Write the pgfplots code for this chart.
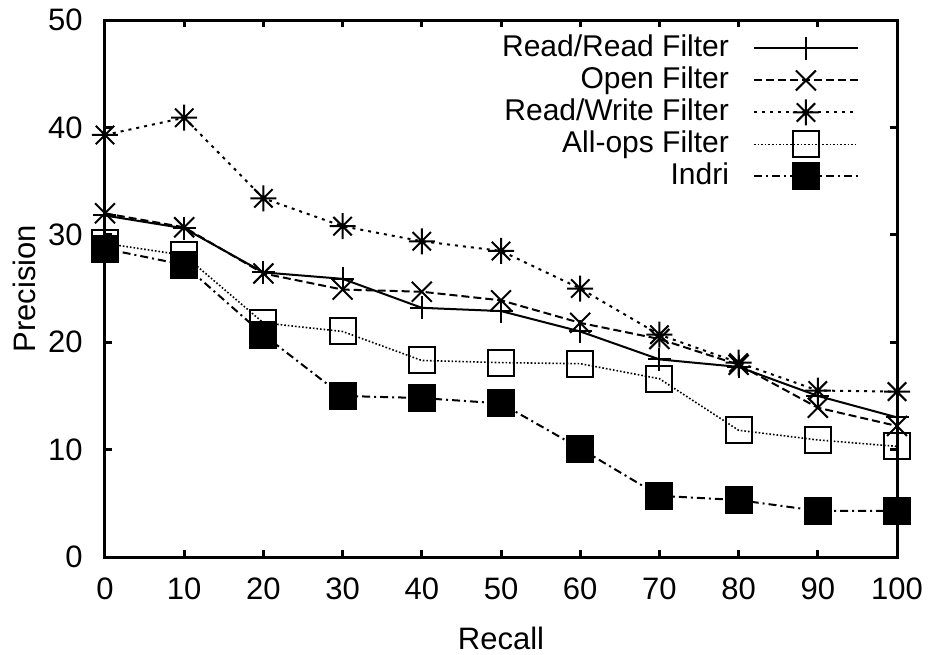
\documentclass[border=0pt]{standalone}
\usepackage{pgfplots}
\pgfplotsset{compat=1.18}
\usepackage{fontspec}
\setmainfont{Liberation Sans}
\pgfdeclareplotmark{gpstar}{%
  \pgfpathmoveto{\pgfqpoint{-\pgfplotmarksize}{0pt}}%
  \pgfpathlineto{\pgfqpoint{\pgfplotmarksize}{0pt}}%
  \pgfpathmoveto{\pgfqpoint{0pt}{-\pgfplotmarksize}}%
  \pgfpathlineto{\pgfqpoint{0pt}{\pgfplotmarksize}}%
  \pgfpathmoveto{\pgfqpoint{-.7071\pgfplotmarksize}{-.7071\pgfplotmarksize}}%
  \pgfpathlineto{\pgfqpoint{.7071\pgfplotmarksize}{.7071\pgfplotmarksize}}%
  \pgfpathmoveto{\pgfqpoint{-.7071\pgfplotmarksize}{.7071\pgfplotmarksize}}%
  \pgfpathlineto{\pgfqpoint{.7071\pgfplotmarksize}{-.7071\pgfplotmarksize}}%
  \pgfusepathqstroke}
\begin{document}
\fontsize{15}{18}\selectfont
\begin{tikzpicture}
\useasboundingbox (-52.5pt,-48.5pt) rectangle (412.5pt,278.5pt);
\begin{axis}[
  at={(0,0)}, anchor=origin,
  scale only axis, width=396pt, height=268.5pt,
  xmin=0, xmax=100, ymin=0, ymax=50,
  xtick={0,10,...,100}, ytick={0,10,...,50},
  tick align=inside, major tick length=3.5pt,
  axis line style={line width=1.5pt},
  every tick/.style={black, line width=1.5pt},
  /pgf/number format/assume math mode=true,
  ticklabel style={font=\fontsize{15.5}{18}\selectfont},
  label style={font=\fontsize{15.5}{18}\selectfont},
  yticklabel style={inner xsep=0pt, xshift=-11pt},
  xticklabel style={inner ysep=0pt, yshift=-10pt},
  xlabel={Recall}, ylabel={Precision},
  xlabel style={at={(axis description cs:0.5,-0.151)}, anchor=center},
  ylabel style={at={(axis description cs:-0.1023,0.5)}, anchor=center},
  legend plot pos=right,
  legend cell align=right,
  legend style={draw=none, fill=none, at={(0.96,0.985)}, anchor=north east,
    font=\fontsize{15}{18}\selectfont, row sep=0pt, column sep=11pt,
    nodes={inner sep=1pt, text height=11pt, text depth=3pt}},
  legend image code/.code={\draw[mark repeat=2,mark phase=2,#1] plot coordinates {(0pt,0pt) (26pt,0pt) (52pt,0pt)};},
  every axis plot/.append style={line width=1pt, black, mark options={solid, line width=1pt}},
]
\addplot[mark=+, mark size=5.75pt] coordinates {
(0,31.8) (10,30.6) (20,26.5) (30,25.9) (40,23.2) (50,22.9) (60,21.0) (70,18.4) (80,17.7) (90,15.0) (100,13.0)};
\addlegendentry{Read/Read Filter}
\addplot[mark=x, mark size=7.07pt, dash pattern=on 4pt off 2pt] coordinates {
(0,32.0) (10,30.7) (20,26.4) (30,24.9) (40,24.7) (50,23.9) (60,21.8) (70,20.3) (80,17.9) (90,13.9) (100,12.2)};
\addlegendentry{Open Filter}
\addplot[mark=gpstar, mark size=6.5pt, dash pattern=on 1.5pt off 2.5pt] coordinates {
(0,39.3) (10,40.9) (20,33.4) (30,30.8) (40,29.4) (50,28.5) (60,25.0) (70,20.7) (80,18.1) (90,15.5) (100,15.4)};
\addlegendentry{Read/Write Filter}
\addplot[mark=square, mark size=6.5pt, line width=0.8pt, dash pattern=on 0.8pt off 1pt] coordinates {
(0,29.2) (10,28.1) (20,21.8) (30,21.0) (40,18.3) (50,18.1) (60,18.0) (70,16.6) (80,11.8) (90,10.9) (100,10.3)};
\addlegendentry{All-ops Filter}
\addplot[mark=square*, mark size=6.5pt, dash pattern=on 4pt off 2pt on 1pt off 2pt] coordinates {
(0,28.7) (10,27.2) (20,20.7) (30,15.0) (40,14.8) (50,14.3) (60,10.1) (70,5.7) (80,5.3) (90,4.3) (100,4.3)};
\addlegendentry{Indri}
\end{axis}
\end{tikzpicture}
\end{document}
